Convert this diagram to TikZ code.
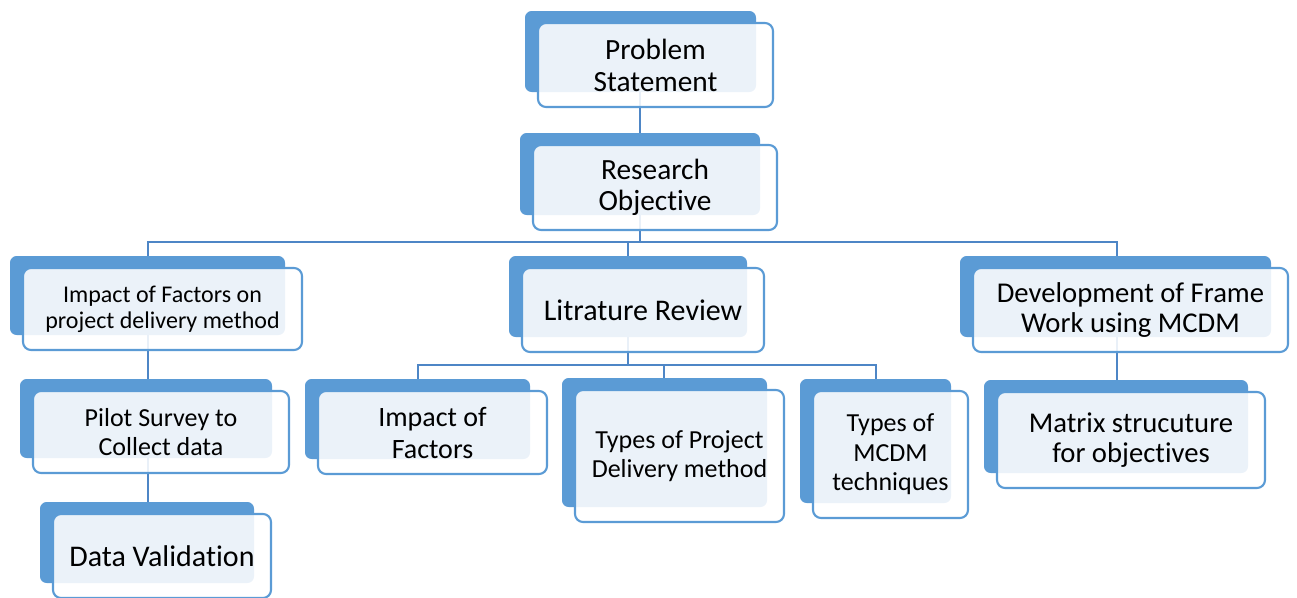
\documentclass[tikz,border=0pt]{standalone}
\usepackage{fontspec}
\setmainfont{Carlito}[Ligatures=NoCommon]
\usetikzlibrary{calc}
\definecolor{backblue}{HTML}{5B9BD5}
\definecolor{frameblue}{HTML}{5B9BD5}
\definecolor{linkblue}{HTML}{4E86C6}
\pgfdeclarelayer{lines}
\pgfdeclarelayer{backs}
\pgfsetlayers{lines,backs,main}
\tikzset{
  wh/.style 2 args={minimum width=#1*0.75pt, minimum height=#2*0.75pt},
  card/.style={draw=frameblue, line width=1.6pt, fill=white, fill opacity=0.88,
    text opacity=1, rounded corners=6pt, inner sep=0pt, outer sep=0pt,
    align=center, text=black},
  backbox/.style={fill=backblue, rounded corners=5pt},
  conn/.style={draw=linkblue, line width=1.5pt},
  fA/.style={font=\fontsize{22}{24}\selectfont},
  fB/.style={font=\fontsize{19.5}{22}\selectfont},
  fC/.style={font=\fontsize{18}{19.5}\selectfont},
}
\begin{document}
\begin{tikzpicture}[x=0.75pt,y=-0.75pt]
\useasboundingbox (0,0) rectangle (1297,597);
% front boxes
\node[card,fA,wh={235}{84}] (ps) at (655.5,65) {Problem\\Statement};
\node[card,wh={244}{85},font=\fontsize{22}{23.5}\selectfont] (ro) at (655,187.5) {Research\\Objective};
\node[card,fC,wh={279}{82}] (ifp) at (162.5,309) {Impact of Factors on\\project delivery method};
\node[card,wh={242}{84},font=\fontsize{22.5}{24}\selectfont] (lr) at (643,310) {Litrature Review};
\node[card,wh={315}{84},font=\fontsize{21.5}{22.5}\selectfont] (dev) at (1130.5,310) {Development of Frame\\Work using MCDM};
\node[card,fB,wh={256}{82}] (pil) at (161,432) {Pilot Survey to\\Collect data};
\node[card,wh={218}{84},font=\fontsize{22.5}{24}\selectfont] (dv) at (162,556) {Data Validation};
\node[card,wh={229}{83},font=\fontsize{21}{24}\selectfont] (iof) at (432.5,432.5) {Impact of\\Factors};
\node[card,fB,wh={209}{132}] (tpd) at (679.5,456) {Types of Project\\Delivery method};
\node[card,fB,wh={155}{127}] (tm) at (890.5,454.5) {Types of\\MCDM\\techniques};
\node[card,wh={268}{96},font=\fontsize{21.5}{22.5}\selectfont] (mat) at (1131,440) {Matrix strucuture\\for objectives};
% back boxes
\begin{pgfonlayer}{backs}
\foreach \n in {ps,ro,ifp,lr,dev,pil,dv,iof,tpd,tm,mat}{
  \fill[backbox] ([shift={(-13,-12)}]\n.north west) rectangle ([shift={(-17,-15)}]\n.south east);
}
\end{pgfonlayer}
% connectors
\coordinate (j1) at (640,242);
\coordinate (bl) at (148,242);
\coordinate (br) at (1117,242);
\coordinate (jm) at (628,242);
\coordinate (k) at (628,365);
\coordinate (kl) at (418,365);
\coordinate (km) at (664,365);
\coordinate (kr) at (876,365);
\begin{pgfonlayer}{lines}
\draw[conn] (ps.center -| j1) -- (j1);
\draw[conn] (dv.center -| bl) -- (bl) -- (br) -- (mat.center -| br);
\draw[conn] (jm) -- (k);
\draw[conn] (iof.center -| kl) -- (kl) -- (kr) -- (tm.center -| kr);
\draw[conn] (km) -- (tpd.center -| km);
\end{pgfonlayer}
\end{tikzpicture}
\end{document}
